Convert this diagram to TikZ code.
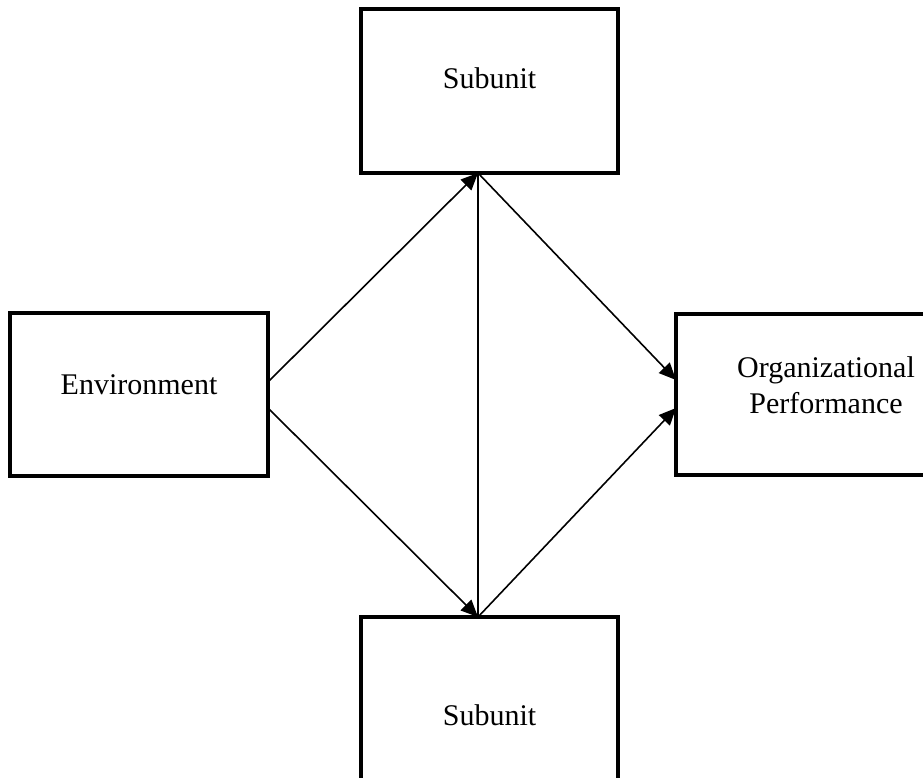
\documentclass[tikz,border=0pt]{standalone}
\usepackage{fontspec}
\setmainfont{Liberation Serif}
\usetikzlibrary{arrows.meta}

\begin{document}
\begin{tikzpicture}[x=1pt,y=-1pt,font=\fontsize{30}{36}\selectfont,
  unitbox/.style={draw,line width=3.2pt,inner sep=0pt},
  link/.style={line width=1.6pt},
  flow/.style={link,-{Triangle[length=17pt,width=15pt]}}]
  \useasboundingbox (0,0) rectangle (923,778);
  \clip (0,0) rectangle (923,778);
  % boxes
  \node[unitbox,minimum width=257,minimum height=164] (top) at (489.5,91) {};
  \node[unitbox,minimum width=257,minimum height=164] (bot) at (489.5,699) {};
  \node[unitbox,minimum width=258,minimum height=163] (env) at (139,394.5) {};
  \node[unitbox,minimum width=300,minimum height=161] (org) at (826,394.5) {};
  % texts
  \node (toptxt) at (489.5,78) {Subunit};
  \node (bottxt) at (489.5,715) {Subunit};
  \node (envtxt) at (139,385) {Environment};
  \node[align=center] (orgtxt) at (826,385) {Organizational\\Performance};
  % ends of the links
  \coordinate (jt) at (478,173);
  \coordinate (jb) at (478,617);
  \coordinate (envup) at (268,382);
  \coordinate (envdn) at (268,408);
  \coordinate (orgup) at (676,380);
  \coordinate (orgdn) at (676,408);
  % links
  \draw[flow] (envup) -- (jt);
  \draw[flow] (envdn) -- (jb);
  \draw[flow] (jt) -- (orgup);
  \draw[flow] (jb) -- (orgdn);
  \draw[link] (jt) -- (jb);
\end{tikzpicture}
\end{document}
